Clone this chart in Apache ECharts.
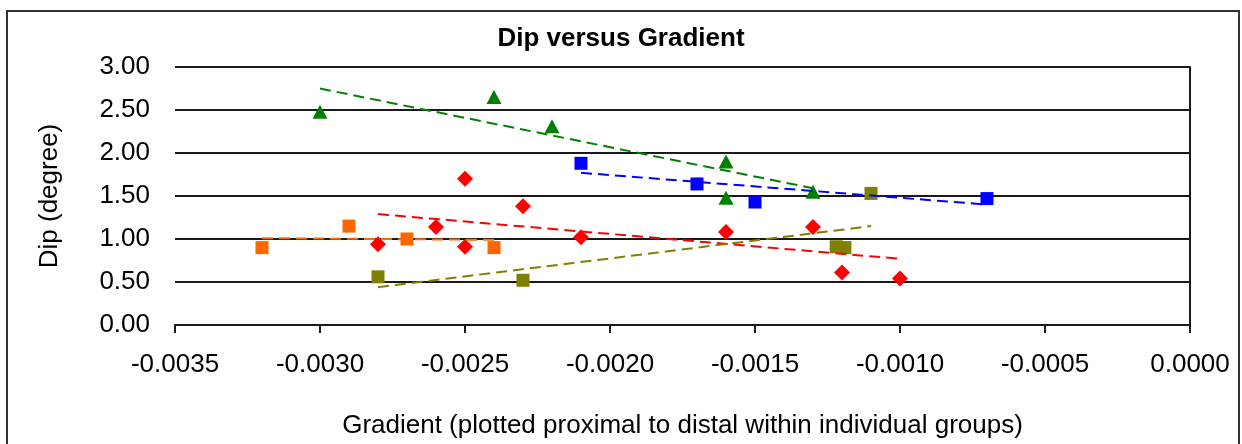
<!DOCTYPE html>
<html>
<head>
<meta charset="utf-8">
<script src="https://cdn.jsdelivr.net/npm/echarts@6/dist/echarts.min.js"></script>
<style>
html,body{margin:0;padding:0;background:#fff;}
#chart{width:1242px;height:444px;}
</style>
</head>
<body>
<div id="chart"></div>
<script>
// ---- data ----
const titleText = 'Dip versus Gradient';
const xAxisName = 'Gradient (plotted proximal to distal within individual groups)';
const yAxisName = 'Dip (degree)';
const xTicks = [-0.0035, -0.0030, -0.0025, -0.0020, -0.0015, -0.0010, -0.0005, 0.0000];
const yTicks = [0.00, 0.50, 1.00, 1.50, 2.00, 2.50, 3.00];

const greenPts = [[-0.0030, 2.48], [-0.0024, 2.65], [-0.0022, 2.31], [-0.0016, 1.90], [-0.0016, 1.48], [-0.0013, 1.55]];
const bluePts = [[-0.0021, 1.88], [-0.0017, 1.64], [-0.0015, 1.43], [-0.0007, 1.47]];
const redPts = [[-0.0028, 0.94], [-0.0026, 1.14], [-0.0025, 1.70], [-0.0025, 0.91], [-0.0023, 1.38], [-0.0021, 1.02], [-0.0016, 1.08], [-0.0013, 1.14], [-0.0012, 0.61], [-0.0010, 0.54]];
const orangePts = [[-0.0032, 0.90], [-0.0029, 1.15], [-0.0027, 1.00], [-0.0024, 0.90]];
const olivePts = [[-0.0028, 0.56], [-0.0023, 0.52], [-0.00122, 0.91], [-0.00119, 0.90], [-0.0011, 1.53]];

// trend lines (end points)
const greenTrend = [[-0.0030, 2.75], [-0.0013, 1.59]];
const blueTrend = [[-0.0021, 1.77], [-0.0007, 1.40]];
const redTrend = [[-0.0028, 1.29], [-0.0010, 0.77]];
const orangeTrend = [[-0.0032, 1.01], [-0.0024, 0.99]];
const oliveTrend = [[-0.0028, 0.44], [-0.0011, 1.15]];

const FONT = '"Liberation Sans", Arial, Helvetica, sans-serif';
const C = {green: '#008000', blue: '#0000ff', red: '#ff0000', orange: '#ff6600', olive: '#808000'};

function scatter(name, data, color, symbol, size) {
  return {name, type: 'scatter', data, symbol, symbolSize: size,
    itemStyle: {color, opacity: 1}, z: 3, silent: true};
}
function trend(name, data, color) {
  return {name, type: 'line', data, symbol: 'none', z: 4, silent: true,
    lineStyle: {color, width: 2, type: [11, 6]}};
}

const chart = echarts.init(document.getElementById('chart'), null, {renderer: 'canvas'});
chart.setOption({
  animation: false,
  backgroundColor: '#fff',
  title: {text: titleText, left: 'center', top: 21,
    textStyle: {fontFamily: FONT, fontSize: 26, fontWeight: 'bold', color: '#000'}},
  graphic: [{type: 'rect', shape: {x: 7, y: 11, width: 1232, height: 460},
    style: {fill: 'none', stroke: '#333', lineWidth: 2}, silent: true}],
  grid: {left: 175, right: 52, top: 67, bottom: 119, containLabel: false},
  xAxis: {
    type: 'value', min: xTicks[0], max: xTicks[xTicks.length - 1], interval: 0.0005,
    name: xAxisName, nameLocation: 'middle', nameGap: 88,
    nameTextStyle: {fontFamily: FONT, fontSize: 26, color: '#000'},
    axisLine: {show: true, onZero: false, lineStyle: {color: '#1a1a1a', width: 2}},
    axisTick: {show: true, inside: false, length: 8, lineStyle: {color: '#1a1a1a', width: 2}},
    splitLine: {show: false},
    axisLabel: {margin: 27, fontFamily: FONT, fontSize: 26, color: '#000',
      formatter: v => (Math.abs(v) < 1e-12 ? 0 : v).toFixed(4)}
  },
  yAxis: [{
    type: 'value', min: yTicks[0], max: yTicks[yTicks.length - 1], interval: 0.5,
    name: yAxisName, nameLocation: 'middle', nameGap: 112, nameRotate: 90,
    nameTextStyle: {fontFamily: FONT, fontSize: 26, color: '#000'},
    axisLine: {show: false}, axisTick: {show: false},
    splitLine: {show: true, lineStyle: {color: '#1a1a1a', width: 2}},
    axisLabel: {margin: 25, fontFamily: FONT, fontSize: 26, color: '#000',
      formatter: v => v.toFixed(2)}
  }, {
    type: 'value', position: 'right', min: yTicks[0], max: yTicks[yTicks.length - 1], interval: 0.5,
    axisLine: {show: true, lineStyle: {color: '#1a1a1a', width: 2}},
    axisTick: {show: false}, axisLabel: {show: false}, splitLine: {show: false}
  }],
  series: [
    scatter('green', greenPts, C.green, 'triangle', [15, 14]),
    scatter('blue', bluePts, C.blue, 'rect', 13),
    scatter('red', redPts, C.red, 'diamond', 16),
    scatter('orange', orangePts, C.orange, 'rect', 13),
    scatter('olive', olivePts, C.olive, 'rect', 13),
    trend('greenTrend', greenTrend, C.green),
    trend('blueTrend', blueTrend, C.blue),
    trend('redTrend', redTrend, C.red),
    trend('orangeTrend', orangeTrend, C.orange),
    trend('oliveTrend', oliveTrend, C.olive)
  ]
});
</script>
</body>
</html>
